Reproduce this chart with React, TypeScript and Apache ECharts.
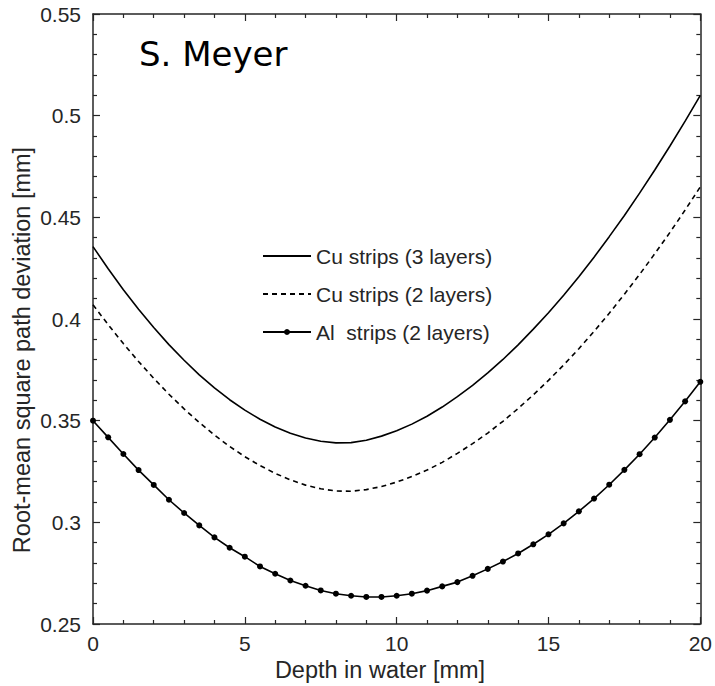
import React, { useEffect, useRef } from "react";
import * as echarts from "echarts";

const depth = [0, 0.5, 1, 1.5, 2, 2.5, 3, 3.5, 4, 4.5, 5, 5.5, 6, 6.5, 7, 7.5, 8, 8.5, 9, 9.5, 10, 10.5, 11, 11.5, 12, 12.5, 13, 13.5, 14, 14.5, 15, 15.5, 16, 16.5, 17, 17.5, 18, 18.5, 19, 19.5, 20];

const cu3 = [0.4356, 0.4247, 0.4144, 0.4048, 0.3958, 0.3874, 0.3797, 0.3725, 0.3661, 0.3603, 0.3552, 0.3507, 0.3469, 0.3438, 0.3415, 0.3399, 0.3391, 0.3392, 0.3404, 0.3424, 0.345, 0.3483, 0.3522, 0.3567, 0.3618, 0.3674, 0.3735, 0.3801, 0.3873, 0.395, 0.4031, 0.4117, 0.4208, 0.4304, 0.4405, 0.4509, 0.4619, 0.4733, 0.4851, 0.4973, 0.51];

const cu2 = [0.407, 0.3972, 0.3879, 0.3791, 0.3708, 0.363, 0.3558, 0.3491, 0.3429, 0.3373, 0.3323, 0.3279, 0.3241, 0.3209, 0.3183, 0.3165, 0.3154, 0.3153, 0.3161, 0.3176, 0.3198, 0.3225, 0.3257, 0.3295, 0.3339, 0.3387, 0.3439, 0.3497, 0.356, 0.3627, 0.3698, 0.3774, 0.3854, 0.3939, 0.4028, 0.4122, 0.4219, 0.4321, 0.4426, 0.4536, 0.465];

const al2 = [0.35, 0.3418, 0.3336, 0.3257, 0.3184, 0.3111, 0.3046, 0.2985, 0.2926, 0.2875, 0.2831, 0.2783, 0.2747, 0.2714, 0.2688, 0.2665, 0.2649, 0.2639, 0.2633, 0.2633, 0.2639, 0.2649, 0.2664, 0.2685, 0.2706, 0.2737, 0.2771, 0.2807, 0.2847, 0.2892, 0.2941, 0.2995, 0.3054, 0.3117, 0.3185, 0.3258, 0.3335, 0.3417, 0.3504, 0.3595, 0.3691];

const seriesNames = ["Cu strips (3 layers)", "Cu strips (2 layers)", "Al  strips (2 layers)"];
const xName = "Depth in water [mm]";
const yName = "Root-mean square path deviation [mm]";
const titleText = "S. Meyer";

const AX = "#262626";
const FONT = "'Liberation Sans', Arial, Helvetica, sans-serif";

function pairs(ys: number[]) {
  return depth.map((x, i) => [x, ys[i]]);
}

export default function App() {
  const ref = useRef<HTMLDivElement>(null);
  useEffect(() => {
    if (!ref.current) return;
    const chart = echarts.init(ref.current, undefined, { renderer: "svg" });
    const axisCommon = {
      axisLine: { show: true, onZero: false, lineStyle: { color: AX, width: 1.5 } },
      axisTick: { show: true, inside: true, length: 7, lineStyle: { color: AX, width: 1.2 } },
      minorTick: { show: true, splitNumber: 5, length: 4, lineStyle: { color: AX, width: 1.2 } },
      splitLine: { show: false },
      minorSplitLine: { show: false },
    };
    chart.setOption({
      animation: false,
      backgroundColor: "#ffffff",
      textStyle: { fontFamily: FONT },
      grid: { left: 93, right: 11, top: 14, bottom: 62, containLabel: false },
      xAxis: [
        {
          type: "value",
          min: 0,
          max: 20,
          interval: 5,
          ...axisCommon,
          axisLabel: { color: AX, fontSize: 21, margin: 9, fontFamily: FONT },
        },
        {
          type: "value",
          position: "top",
          min: 0,
          max: 20,
          interval: 5,
          ...axisCommon,
          axisLabel: { show: false },
        },
      ],
      yAxis: [
        {
          type: "value",
          min: 0.25,
          max: 0.55,
          interval: 0.05,
          ...axisCommon,
          axisLabel: { color: AX, fontSize: 21, margin: 12, fontFamily: FONT },
        },
        {
          type: "value",
          position: "right",
          min: 0.25,
          max: 0.55,
          interval: 0.05,
          ...axisCommon,
          axisLabel: { show: false },
        },
      ],
      legend: {
        orient: "vertical",
        left: 257,
        top: 239,
        itemWidth: 48,
        itemHeight: 7.5,
        itemGap: 14,
        selectedMode: false,
        textStyle: { color: AX, fontSize: 21, lineHeight: 24, fontFamily: FONT },
        data: [
          { name: seriesNames[0], itemStyle: { opacity: 0 } },
          { name: seriesNames[1], itemStyle: { opacity: 0 } },
          { name: seriesNames[2] },
        ],
      },
      graphic: [
        {
          type: "text",
          x: 139,
          y: 54,
          style: {
            text: titleText,
            font: "34px 'DejaVu Sans', Verdana, sans-serif",
            fill: "#000",
            verticalAlign: "middle",
          },
        },
        {
          type: "text",
          x: 380,
          y: 670,
          style: {
            text: xName,
            font: "23.5px 'Liberation Sans', Arial, sans-serif",
            fill: AX,
            align: "center",
            verticalAlign: "middle",
          },
        },
        {
          type: "text",
          x: 22,
          y: 350,
          rotation: Math.PI / 2,
          style: {
            text: yName,
            font: "23.5px 'Liberation Sans', Arial, sans-serif",
            fill: AX,
            align: "center",
            verticalAlign: "middle",
          },
        },
      ],
      series: [
        {
          name: seriesNames[0],
          type: "line",
          data: pairs(cu3),
          symbol: "none",
          lineStyle: { color: "#000", width: 1.6 },
          itemStyle: { color: "#000" },
        },
        {
          name: seriesNames[1],
          type: "line",
          data: pairs(cu2),
          symbol: "none",
          lineStyle: { color: "#000", width: 1.6, type: [5, 4] },
          itemStyle: { color: "#000" },
        },
        {
          name: seriesNames[2],
          type: "line",
          data: pairs(al2),
          symbol: "circle",
          symbolSize: 6,
          showAllSymbol: true,
          lineStyle: { color: "#000", width: 1.6 },
          itemStyle: { color: "#000" },
        },
      ],
    });
    return () => chart.dispose();
  }, []);
  return <div ref={ref} style={{ width: 715, height: 686, position: "absolute", left: 0, top: 0 }} />;
}
